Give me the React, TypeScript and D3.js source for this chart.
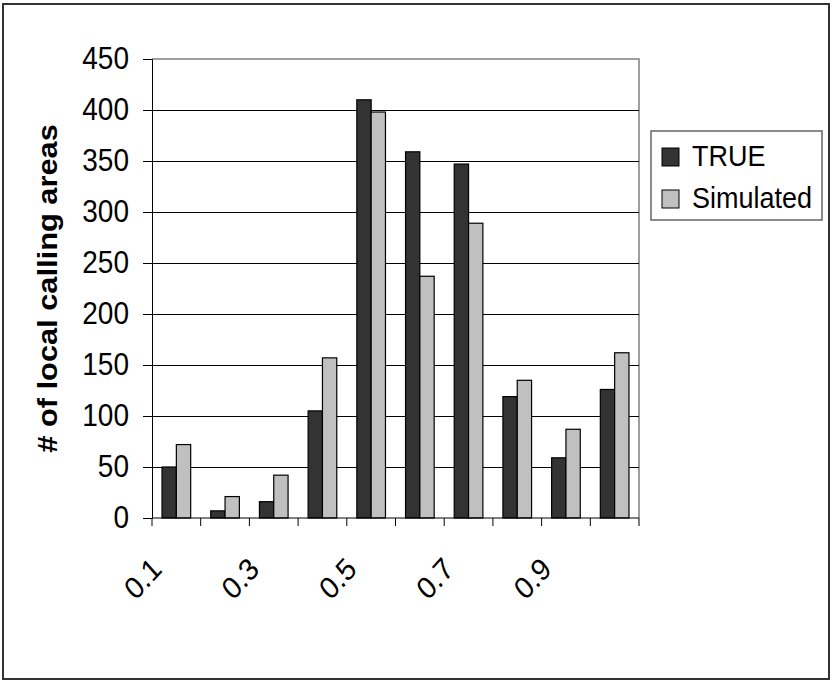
import React, { useEffect, useRef } from 'react';
import * as d3 from 'd3';

const categories = ['0.1', '0.2', '0.3', '0.4', '0.5', '0.6', '0.7', '0.8', '0.9', '1.0'];
const seriesNames = ['TRUE', 'Simulated'];
const trueValues = [50, 7, 16, 105, 410, 359, 347, 119, 59, 126];
const simulatedValues = [72, 21, 42, 157, 398, 237, 289, 135, 87, 162];
const yTicks = [0, 50, 100, 150, 200, 250, 300, 350, 400, 450];
const shownLabels = ['0.1', '0.3', '0.5', '0.7', '0.9'];

const colors: Record<string, string> = { TRUE: '#333333', Simulated: '#c0c0c0' };
const FONT = '"Liberation Sans", Arial, sans-serif';
// the source image is a little stretched vertically, text included
const STRETCH = 1.1;

const App: React.FC = () => {
  const svgRef = useRef<SVGSVGElement>(null);

  useEffect(() => {
    if (!svgRef.current) return;
    const svg = d3.select(svgRef.current);
    svg.selectAll('*').remove();

    const width = 831;
    const height = 681;
    const plot = { left: 152, right: 639, top: 59, bottom: 518 };

    svg.attr('width', width).attr('height', height);

    // outer frame
    svg.append('rect')
      .attr('x', 3).attr('y', 4)
      .attr('width', width - 5).attr('height', height - 6)
      .attr('fill', '#fff')
      .attr('stroke', '#333')
      .attr('stroke-width', 2);

    const x0 = d3.scaleBand<string>()
      .domain(categories)
      .range([plot.left, plot.right])
      .paddingInner(0)
      .paddingOuter(0);

    const x1 = d3.scaleBand<string>()
      .domain(seriesNames)
      .range([0, x0.bandwidth()])
      .paddingInner(0)
      .paddingOuter(0.7);

    const y = d3.scaleLinear().domain([0, 450]).range([plot.bottom, plot.top]);

    // plot area border (grey top and right)
    svg.append('path')
      .attr('d', `M${plot.left},${plot.top}H${plot.right}V${plot.bottom}`)
      .attr('fill', 'none')
      .attr('stroke', '#808080')
      .attr('stroke-width', 1.5);

    // gridlines
    svg.append('g')
      .selectAll('line')
      .data(yTicks.filter(t => t > 0 && t < 450))
      .enter()
      .append('line')
      .attr('x1', plot.left).attr('x2', plot.right)
      .attr('y1', d => Math.round(y(d)) + 0.5).attr('y2', d => Math.round(y(d)) + 0.5)
      .attr('stroke', '#000')
      .attr('stroke-width', 1);

    // bars
    const rows = categories.map((c, i) => ({
      category: c,
      values: [
        { name: 'TRUE', value: trueValues[i] },
        { name: 'Simulated', value: simulatedValues[i] },
      ],
    }));

    svg.append('g')
      .selectAll('g')
      .data(rows)
      .enter()
      .append('g')
      .attr('transform', d => `translate(${x0(d.category)},0)`)
      .selectAll('rect')
      .data(d => d.values)
      .enter()
      .append('rect')
      .attr('x', d => x1(d.name) as number)
      .attr('y', d => y(d.value))
      .attr('width', x1.bandwidth())
      .attr('height', d => plot.bottom - y(d.value))
      .attr('fill', d => colors[d.name])
      .attr('stroke', '#000')
      .attr('stroke-width', 1.2);

    // y axis
    const yAxis = d3.axisLeft(y).tickValues(yTicks).tickSize(9).tickFormat(() => '');
    const yg = svg.append('g')
      .attr('transform', `translate(${plot.left},0)`)
      .call(yAxis);
    yg.select('.domain').attr('stroke', '#000');
    yg.selectAll('.tick line').attr('stroke', '#000');

    svg.append('g')
      .selectAll('text')
      .data(yTicks)
      .enter()
      .append('text')
      .attr('transform', d => `translate(${plot.left - 23},${y(d) + 10}) scale(1,${STRETCH})`)
      .attr('text-anchor', 'end')
      .attr('font-family', FONT)
      .attr('font-size', 28)
      .text(d => d);

    // x axis
    svg.append('line')
      .attr('x1', plot.left).attr('x2', plot.right)
      .attr('y1', plot.bottom).attr('y2', plot.bottom)
      .attr('stroke', '#000');

    const boundaries = categories.map(c => x0(c) as number).concat([plot.right]);
    svg.append('g')
      .selectAll('line')
      .data(boundaries)
      .enter()
      .append('line')
      .attr('x1', d => d).attr('x2', d => d)
      .attr('y1', plot.bottom).attr('y2', plot.bottom + 8)
      .attr('stroke', '#000');

    svg.append('g')
      .selectAll('text')
      .data(shownLabels)
      .enter()
      .append('text')
      .attr('transform', d => {
        const cx = (x0(d) as number) + x0.bandwidth() / 2;
        return `translate(${cx - 13},${plot.bottom + 53}) scale(1,${STRETCH}) rotate(-45)`;
      })
      .attr('text-anchor', 'end')
      .attr('font-family', FONT)
      .attr('font-size', 28)
      .text(d => d);

    // y axis title
    svg.append('text')
      .attr('transform', `translate(57,${(plot.top + plot.bottom) / 2}) scale(1,${STRETCH}) rotate(-90)`)
      .attr('text-anchor', 'middle')
      .attr('font-family', FONT)
      .attr('font-size', 28)
      .attr('font-weight', 'bold')
      .text('# of local calling areas');

    // legend
    const legend = svg.append('g');
    legend.append('rect')
      .attr('x', 651).attr('y', 131)
      .attr('width', 171).attr('height', 89)
      .attr('fill', '#fff')
      .attr('stroke', '#666')
      .attr('stroke-width', 1.5);

    const items = legend.selectAll('g.item')
      .data(seriesNames)
      .enter()
      .append('g')
      .attr('class', 'item')
      .attr('transform', (d, i) => `translate(662,${148 + i * 42})`);

    items.append('rect')
      .attr('width', 17).attr('height', 18)
      .attr('fill', d => colors[d])
      .attr('stroke', '#000')
      .attr('stroke-width', 1);

    items.append('text')
      .attr('transform', `translate(30,18) scale(1,${STRETCH})`)
      .attr('font-family', FONT)
      .attr('font-size', 27)
      .text(d => d);
  }, []);

  return (
    <div style={{ position: 'absolute', left: 0, top: 0 }}>
      <svg ref={svgRef} style={{ display: 'block' }}></svg>
    </div>
  );
};

export default App;
